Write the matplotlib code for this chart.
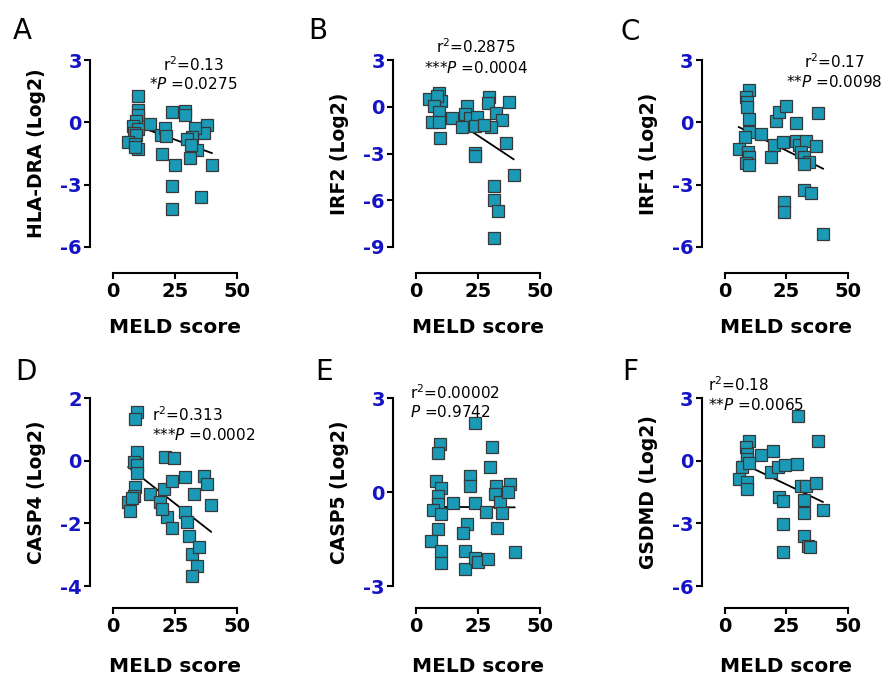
import numpy as np
import matplotlib.pyplot as plt

plt.rcParams['font.family'] = 'DejaVu Sans'
plt.rcParams['mathtext.fontset'] = 'dejavusans'
plt.rcParams['axes.unicode_minus'] = False

# --- data ---
meld_a = [10, 10, 10, 9.5, 8, 10, 8.5, 9.5, 6, 9, 10, 9, 15, 19.5, 21, 21.5, 20, 24, 29, 29,
          25, 24, 24, 35.5, 40, 38, 37, 33, 32, 30, 34, 31, 31.5]
hla_dra = [1.25, 0.6, 0.35, 0.05, -0.2, -0.3, -0.5, -0.6, -0.95, -1.05, -1.3, -1.2, -0.1, -0.6,
           -0.25, -0.65, -1.5, 0.52, 0.55, 0.35, -2.05, -3.05, -4.15, -3.6, -2.05, -0.12, -0.52,
           -0.25, -0.7, -0.8, -1.35, -1.72, -1.1]

meld_b = [5.2, 9.3, 10, 8.5, 7.3, 9.3, 6.6, 9.3, 9.6, 14.4, 20.7, 20, 22, 24.7, 18.7, 23.8, 23.8,
          23.8, 29.4, 29, 37.5, 32.5, 34.8, 30.5, 27.5, 36.6, 39.5, 31.7, 31.7, 33.2, 31.7]
irf2 = [0.49, 0.91, 0.38, 0.7, 0.06, -0.36, -1.0, -1.0, -2.02, -0.72, 0.06, -0.47, -0.75, -0.64,
        -1.32, -1.21, -2.95, -3.15, 0.6, 0.21, 0.32, -0.43, -0.85, -1.28, -1.2, -2.34, -4.4, -5.1,
        -6.0, -6.68, -8.4]

meld_c = [9.8, 8.7, 9.1, 9.3, 10.1, 10.1, 8.1, 5.8, 9.5, 9.8, 8.7, 9.8, 14.8, 18.8, 20.2, 20.8,
          22.2, 24.9, 23.5, 28.9, 28.9, 30.2, 32.9, 30.9, 32.3, 34.3, 32.1, 37.0, 38.0, 32.1, 35.2,
          24.2, 24.2, 39.9]
irf1 = [1.55, 1.2, 0.96, 0.72, 0.16, -0.48, -0.72, -1.27, -1.44, -1.67, -1.96, -2.07, -0.56, -1.67,
        -1.11, 0.08, 0.48, 0.8, -0.96, -0.05, -0.88, -1.11, -0.88, -1.44, -1.67, -1.91, -1.99,
        -1.15, 0.45, -3.27, -3.4, -3.83, -4.3, -5.39]

meld_d = [9.9, 8.9, 9.6, 8.3, 9.6, 9.6, 8.9, 8.3, 6.2, 6.9, 7.6, 15.0, 19.1, 20.5, 21.1, 24.5, 23.8,
          21.8, 23.8, 19.8, 29.0, 29.3, 30.0, 30.9, 32.0, 34.7, 34.0, 32.0, 32.7, 37.0, 38.1, 39.7]
casp4 = [1.56, 1.33, 0.27, -0.05, -0.14, -0.4, -0.83, -1.12, -1.33, -1.6, -1.2, -1.06, -1.33, -0.9,
         0.11, 0.07, -0.64, -1.79, -2.16, -1.54, -0.51, -1.65, -1.97, -2.39, -2.98, -2.74, -3.37,
         -3.69, -1.06, -0.48, -0.74, -1.4]

meld_e = [23.8, 9.7, 9.0, 30.8, 29.8, 21.8, 21.8, 7.9, 10.1, 9.0, 9.0, 7.0, 10.1, 15.1, 23.8, 28.5,
          32.3, 31.9, 33.9, 35.0, 37.9, 37.2, 32.9, 9.0, 6.0, 20.8, 19.1, 20.0, 10.3, 10.3, 19.8,
          23.8, 25.1, 29.2, 39.9]
casp5 = [2.2, 1.52, 1.26, 1.45, 0.81, 0.51, 0.19, 0.35, 0.14, -0.13, -0.39, -0.58, -0.71, -0.36,
         -0.34, -0.63, 0.19, -0.07, -0.32, -0.68, 0.27, 0.01, -1.14, -1.19, -1.55, -1.03, -1.3,
         -1.87, -1.89, -2.28, -2.45, -2.1, -2.24, -2.15, -1.91]

meld_f = [29.9, 38.0, 9.9, 8.6, 9.2, 9.2, 14.7, 19.8, 7.2, 9.9, 5.8, 9.0, 9.2, 19.0, 21.5, 24.5,
          29.3, 22.1, 23.5, 23.5, 23.8, 31.0, 33.0, 37.1, 32.1, 32.1, 39.8, 32.1, 33.7, 34.8]
gsdmd = [2.13, 0.96, 0.93, 0.64, 0.32, 0.08, 0.27, 0.48, -0.32, -0.11, -0.88, -1.04, -1.36, -0.56,
         -0.32, -0.19, -0.16, -1.76, -1.92, -3.04, -4.37, -1.2, -1.2, -1.07, -1.87, -2.51, -2.37,
         -3.63, -4.08, -4.13]

letters = ['A', 'B', 'C', 'D', 'E', 'F']
genes = ['HLA-DRA (Log2)', 'IRF2 (Log2)', 'IRF1 (Log2)',
         'CASP4 (Log2)', 'CASP5 (Log2)', 'GSDMD (Log2)']
xs = [meld_a, meld_b, meld_c, meld_d, meld_e, meld_f]
ys = [hla_dra, irf2, irf1, casp4, casp5, gsdmd]
ylims = [(-6, 3), (-9, 3), (-6, 3), (-4, 2), (-3, 3), (-6, 3)]
yticks = [[3, 0, -3, -6], [3, 0, -3, -6, -9], [3, 0, -3, -6],
          [2, 0, -2, -4], [3, 0, -3], [3, 0, -3, -6]]
slopes = [-0.0433, -0.105, -0.0587, -0.0617, -0.0005, -0.0567]
intercepts = [0.253, 0.78, 0.112, 0.18, -0.47, 0.28]
r2_text = ['0.13', '0.2875', '0.17', '0.313', '0.00002', '0.18']
p_text = ['*$P$ =0.0275', '***$P$ =0.0004', '**$P$ =0.0098',
          '***$P$ =0.0002', '$P$ =0.9742', '**$P$ =0.0065']

# text anchor (data coords): x, y line1, y line2, alignment
text_pos = [(32.5, 2.8, 1.85, 'center'), (24.2, 3.83, 2.49, 'center'),
            (44.4, 2.9, 1.95, 'center'), (15.9, 1.46, 0.82, 'left'),
            (-2.4, 3.16, 2.55, 'left'), (-6.5, 3.62, 2.67, 'left')]

teal = '#1a9ab6'
blue = '#1414c4'

W, H = 888, 680
fig = plt.figure(figsize=(W / 100, H / 100), dpi=100)

col_x0 = [113, 416, 724.5]
rows = [(60, 247, 26), (398, 586, 22)]
letter_xy = [(13, 17), (308, 17), (620, 18), (15, 358), (315, 358), (622, 358)]

for i in range(6):
    r, c = divmod(i, 3)
    top, bottom, xoff = rows[r]
    ax = fig.add_axes([col_x0[c] / W, 1 - bottom / H, 123.5 / W, (bottom - top) / H])

    x = np.array(xs[i])
    y = np.array(ys[i])
    ax.plot(x, y, 's', ms=8.8, mfc=teal, mec='#383838', mew=0.9,
            clip_on=False, zorder=3)
    xx = np.array([x.min(), x.max()])
    ax.plot(xx, slopes[i] * xx + intercepts[i], color='black', lw=1.3, zorder=2)

    ax.set_xlim(0, 50)
    ax.set_ylim(*ylims[i])
    ax.set_xticks([0, 25, 50])
    ax.set_yticks(yticks[i])

    for s in ['top', 'right']:
        ax.spines[s].set_visible(False)
    ax.spines['left'].set_position(('outward', 16.5))
    ax.spines['bottom'].set_position(('outward', xoff * 0.72))
    for s in ['left', 'bottom']:
        ax.spines[s].set_linewidth(1.5)

    ax.tick_params(direction='out', width=1.5, length=4, labelsize=14)
    ax.tick_params(axis='y', pad=2)
    ax.tick_params(axis='x', pad=2.5)
    for lab in ax.get_yticklabels():
        lab.set_fontweight('bold')
        lab.set_color(blue)
    for lab in ax.get_xticklabels():
        lab.set_fontweight('bold')

    ax.set_ylabel(genes[i], fontsize=13.5, fontweight='bold')
    ax.yaxis.set_label_coords(-0.54, 0.5)
    ax.set_xlabel('MELD score', fontsize=14.5, fontweight='bold')
    ax.xaxis.set_label_coords(0.5, -0.38)

    tx, ty1, ty2, ha = text_pos[i]
    ax.text(tx, ty1, 'r$^2$=' + r2_text[i], fontsize=11, ha=ha, va='center')
    ax.text(tx, ty2, p_text[i], fontsize=11, ha=ha, va='center')

    lx, ly = letter_xy[i]
    fig.text(lx / W, 1 - ly / H, letters[i], fontsize=20, ha='left', va='top')

fig.savefig('out.png', dpi=100)
